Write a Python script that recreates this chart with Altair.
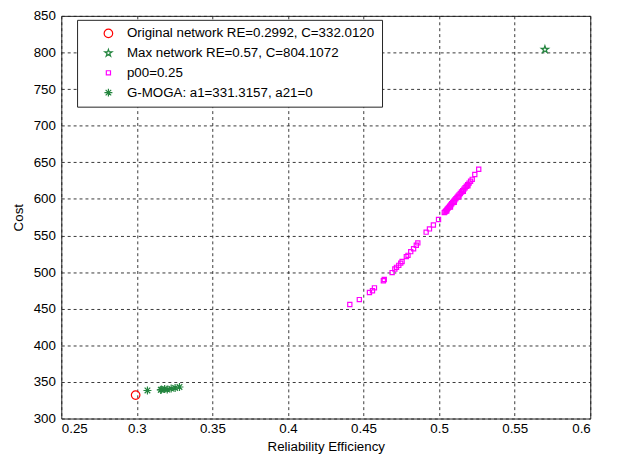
import altair as alt
import pandas as pd

# ---- data ----
orig_x = [0.2992]
orig_y = [332.0120]

max_x = [0.57]
max_y = [804.1072]

p00_x = [0.4409, 0.4472, 0.4539, 0.4559, 0.4572, 0.4631, 0.4637, 0.4689, 0.4707,
         0.4718, 0.4733, 0.4746, 0.4755, 0.4783, 0.4794, 0.4812, 0.4831, 0.4849,
         0.4859, 0.4914, 0.4936, 0.4962, 0.4996,
         0.5034, 0.5040, 0.5046, 0.5052, 0.5058, 0.5064, 0.5070, 0.5077, 0.5083,
         0.5090, 0.5097, 0.5104, 0.5111, 0.5118, 0.5125, 0.5132, 0.5140, 0.5148,
         0.5156, 0.5164, 0.5172, 0.5180, 0.5189, 0.5198, 0.5208, 0.5219,
         0.5050, 0.5075, 0.5100, 0.5130, 0.5160, 0.5190,
         0.5236, 0.5262]
p00_y = [455.8, 462.5, 472.2, 474.5, 478.5, 488.2, 489.9, 499.3, 504.2,
         506.5, 509.2, 512.2, 514.5, 521.2, 522.9, 527.9, 531.9, 536.7,
         539.9, 554.6, 559.0, 564.3, 571.9,
         581.3, 582.5, 584.0, 585.6, 587.1, 588.5, 590.2, 591.8, 593.4,
         595.1, 596.8, 598.6, 600.3, 602.0, 603.7, 605.5, 607.4, 609.4,
         611.3, 613.3, 615.2, 617.2, 619.4, 621.6, 624.1, 626.7,
         583.5, 589.0, 595.5, 603.0, 610.5, 618.0,
         633.3, 640.5]

moga_x = [0.3070, 0.3158, 0.3162, 0.3184, 0.3201, 0.3227, 0.3253, 0.3282]
moga_y = [338.3, 339.1, 339.6, 340.4, 339.6, 340.9, 341.8, 343.1]

labels = ["Original network RE=0.2992, C=332.0120",
          "Max network RE=0.57, C=804.1072",
          "p00=0.25",
          "G-MOGA: a1=331.3157, a21=0"]

x_ticks = [0.25, 0.3, 0.35, 0.4, 0.45, 0.5, 0.55, 0.6]
y_ticks = [300, 350, 400, 450, 500, 550, 600, 650, 700, 750, 800, 850]

rows = []
for xs, ys, lab in [(orig_x, orig_y, labels[0]), (max_x, max_y, labels[1]),
                    (p00_x, p00_y, labels[2]), (moga_x, moga_y, labels[3])]:
    for a, b in zip(xs, ys):
        rows.append({"x": a, "y": b, "series": lab})
df = pd.DataFrame(rows)

star = ("M0,-1L0.2245,-0.309L0.951,-0.309L0.363,0.118L0.588,0.809L0,0.382"
        "L-0.588,0.809L-0.363,0.118L-0.951,-0.309L-0.2245,-0.309Z")
asterisk = "M-1,0L1,0M0,-1L0,1M-0.7,-0.7L0.7,0.7M-0.7,0.7L0.7,-0.7"

FONT = "Liberation Sans"
FS = 13.5

chart = alt.Chart(df).mark_point(filled=False, strokeWidth=1.2, opacity=1).encode(
    x=alt.X("x:Q", title="Reliability Efficiency",
            scale=alt.Scale(domain=[0.25, 0.6], nice=False, zero=False),
            axis=alt.Axis(values=x_ticks, format="~g")),
    y=alt.Y("y:Q", title="Cost",
            scale=alt.Scale(domain=[300, 850], nice=False, zero=False),
            axis=alt.Axis(values=y_ticks, format="d")),
    color=alt.Color("series:N", sort=labels,
                    scale=alt.Scale(domain=labels,
                                    range=["#ff0000", "#23853e", "#ff00ff", "#23853e"]),
                    legend=alt.Legend(title=None, orient="none", legendX=16, legendY=4,
                                      fillColor="white", strokeColor="#222",
                                      padding=7, symbolOffset=18, labelOffset=12,
                                      rowPadding=5, labelFontSize=FS,
                                      labelFont=FONT, labelColor="black",
                                      labelLimit=400, symbolStrokeWidth=1.2)),
    shape=alt.Shape("series:N", sort=labels,
                    scale=alt.Scale(domain=labels,
                                    range=["circle", star, "square", asterisk])),
    size=alt.Size("series:N", sort=labels,
                  scale=alt.Scale(type="ordinal", domain=labels,
                                  range=[75, 60, 18, 65])),
).properties(
    width=536, height=408,
    padding={"left": 54, "top": 5, "right": 20, "bottom": 36},
    autosize=alt.AutoSizeParams(type="none"),
).configure_view(
    stroke="#222", strokeWidth=1
).configure_axis(
    grid=True, gridColor="#222", gridDash=[3, 3], gridOpacity=0.9, gridWidth=1,
    domain=False, ticks=False,
    labelFont=FONT, labelFontSize=FS, labelColor="black",
    titleFont=FONT, titleFontSize=FS, titleFontWeight="normal",
    titleColor="black",
).configure_axisX(
    labelPadding=3, titlePadding=5
).configure_axisY(
    labelPadding=6, titlePadding=8
)

chart.save("out.html", embed_options={"renderer": "svg", "actions": False})
